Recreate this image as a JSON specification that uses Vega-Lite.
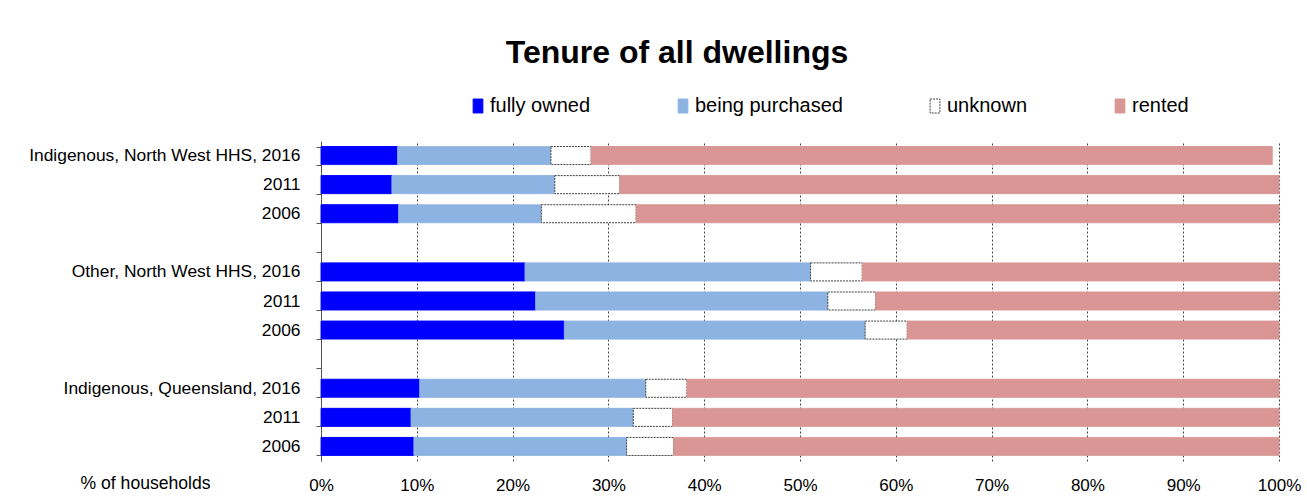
{
  "$schema": "https://vega.github.io/schema/vega-lite/v6.json",
  "autosize": "none",
  "width": 958,
  "height": 320,
  "padding": {"left": 321, "top": 141, "right": 28, "bottom": 40},
  "background": "white",
  "title": {
    "text": "Tenure of all dwellings",
    "font": "Liberation Sans",
    "fontSize": 32,
    "fontWeight": "bold",
    "color": "#000000",
    "anchor": "middle",
    "dx": -123,
    "offset": 26
  },
  "data": {
    "values": [
      {"row": 1, "tenure": "fully owned", "k": 1, "pct": 8.0},
      {"row": 1, "tenure": "being purchased", "k": 2, "pct": 16.0},
      {"row": 1, "tenure": "unknown", "k": 3, "pct": 4.2},
      {"row": 1, "tenure": "rented", "k": 4, "pct": 71.1},
      {"row": 2, "tenure": "fully owned", "k": 1, "pct": 7.4},
      {"row": 2, "tenure": "being purchased", "k": 2, "pct": 17.0},
      {"row": 2, "tenure": "unknown", "k": 3, "pct": 6.8},
      {"row": 2, "tenure": "rented", "k": 4, "pct": 68.8},
      {"row": 3, "tenure": "fully owned", "k": 1, "pct": 8.1},
      {"row": 3, "tenure": "being purchased", "k": 2, "pct": 14.9},
      {"row": 3, "tenure": "unknown", "k": 3, "pct": 9.9},
      {"row": 3, "tenure": "rented", "k": 4, "pct": 67.1},
      {"row": 5, "tenure": "fully owned", "k": 1, "pct": 21.3},
      {"row": 5, "tenure": "being purchased", "k": 2, "pct": 29.8},
      {"row": 5, "tenure": "unknown", "k": 3, "pct": 5.4},
      {"row": 5, "tenure": "rented", "k": 4, "pct": 43.5},
      {"row": 6, "tenure": "fully owned", "k": 1, "pct": 22.4},
      {"row": 6, "tenure": "being purchased", "k": 2, "pct": 30.5},
      {"row": 6, "tenure": "unknown", "k": 3, "pct": 5.0},
      {"row": 6, "tenure": "rented", "k": 4, "pct": 42.1},
      {"row": 7, "tenure": "fully owned", "k": 1, "pct": 25.4},
      {"row": 7, "tenure": "being purchased", "k": 2, "pct": 31.4},
      {"row": 7, "tenure": "unknown", "k": 3, "pct": 4.4},
      {"row": 7, "tenure": "rented", "k": 4, "pct": 38.8},
      {"row": 9, "tenure": "fully owned", "k": 1, "pct": 10.3},
      {"row": 9, "tenure": "being purchased", "k": 2, "pct": 23.6},
      {"row": 9, "tenure": "unknown", "k": 3, "pct": 4.3},
      {"row": 9, "tenure": "rented", "k": 4, "pct": 61.8},
      {"row": 10, "tenure": "fully owned", "k": 1, "pct": 9.4},
      {"row": 10, "tenure": "being purchased", "k": 2, "pct": 23.2},
      {"row": 10, "tenure": "unknown", "k": 3, "pct": 4.1},
      {"row": 10, "tenure": "rented", "k": 4, "pct": 63.3},
      {"row": 11, "tenure": "fully owned", "k": 1, "pct": 9.7},
      {"row": 11, "tenure": "being purchased", "k": 2, "pct": 22.2},
      {"row": 11, "tenure": "unknown", "k": 3, "pct": 4.9},
      {"row": 11, "tenure": "rented", "k": 4, "pct": 63.2}
    ]
  },
  "mark": {"type": "bar", "strokeWidth": 1},
  "encoding": {
    "y": {
      "field": "row",
      "type": "ordinal",
      "scale": {"domain": [1, 2, 3, 4, 5, 6, 7, 8, 9, 10, 11], "paddingInner": 0.38, "paddingOuter": 0.19},
      "axis": {
        "title": null,
        "labelExpr": "['Indigenous, North West HHS, 2016','2011','2006','','Other, North West HHS, 2016','2011','2006','','Indigenous, Queensland, 2016','2011','2006'][datum.value-1]",
        "tickBand": "extent",
        "tickSize": 5,
        "tickColor": "#555555",
        "domainColor": "#555555",
        "labelFont": "Liberation Sans",
        "labelFontSize": 17.4,
        "labelColor": "#000000",
        "labelPadding": 16,
        "labelLimit": 0
      }
    },
    "x": {
      "field": "pct",
      "type": "quantitative",
      "stack": "zero",
      "scale": {"domain": [0, 100], "nice": false},
      "axis": {
        "title": "% of households",
        "titleFont": "Liberation Sans",
        "titleFontSize": 17.6,
        "titleFontWeight": "normal",
        "titleColor": "#000000",
        "titleX": -241,
        "titleY": 22,
        "titleAlign": "left",
        "titleBaseline": "middle",
        "titleAnchor": "start",
        "values": [0, 10, 20, 30, 40, 50, 60, 70, 80, 90, 100],
        "labelExpr": "datum.value + '%'",
        "labelFont": "Liberation Sans",
        "labelFontSize": 17,
        "labelColor": "#000000",
        "labelPadding": 16,
        "ticks": false,
        "domain": false,
        "grid": true,
        "gridColor": "#444444",
        "gridDash": [2, 2],
        "gridWidth": 1,
        "labelFlush": false
      }
    },
    "order": {"field": "k", "type": "quantitative"},
    "fill": {
      "field": "tenure",
      "type": "nominal",
      "scale": {
        "domain": ["fully owned", "being purchased", "unknown", "rented"],
        "range": ["#0000FF", "#8DB3E2", "#FFFFFF", "#D99694"]
      },
      "legend": {
        "title": null,
        "orient": "none",
        "direction": "horizontal",
        "legendX": 147,
        "legendY": -45,
        "symbolType": "M-0.7,-1H0.7V1H-0.7Z",
        "symbolSize": 196,
        "labelFont": "Liberation Sans",
        "labelFontSize": 20,
        "labelColor": "#000000",
        "labelOffset": 2,
        "columnPadding": 82,
        "symbolStrokeWidth": 1
      }
    },
    "stroke": {
      "field": "tenure",
      "type": "nominal",
      "scale": {
        "domain": ["fully owned", "being purchased", "unknown", "rented"],
        "range": ["#0000FF", "#8DB3E2", "#404040", "#D99694"]
      }
    },
    "strokeDash": {
      "field": "tenure",
      "type": "nominal",
      "scale": {
        "domain": ["fully owned", "being purchased", "unknown", "rented"],
        "range": [[1, 0], [1, 0], [2, 1], [1, 0]]
      }
    }
  },
  "config": {
    "view": {"stroke": null},
    "legend": {"padding": 0}
  }
}
